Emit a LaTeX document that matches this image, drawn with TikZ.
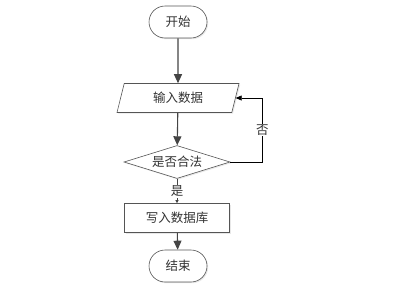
\documentclass[tikz,border=0pt]{standalone}
\usepackage{fontspec}
\setmainfont{Noto Sans CJK SC}
\usepackage{xcolor}
\usetikzlibrary{
  positioning, arrows.meta, shapes.geometric, shapes.misc, shadows,
}
\definecolor{cEdge}  {HTML}{555555}
\definecolor{cArrow} {HTML}{444444}
\definecolor{cText}  {HTML}{333333}

\begin{document}
\begin{tikzpicture}[x=1pt, y=-1pt,
    font=\fontsize{12.5}{14}\selectfont, text=cText,
    shape base/.style={draw=cEdge, line width=0.6pt, fill=white, inner sep=0pt,
      drop shadow={opacity=0.18, shadow xshift=1.2pt, shadow yshift=-1.2pt}},
    terminal/.style={shape base, rounded rectangle, minimum width=58pt, minimum height=32pt},
    inout/.style={shape base, trapezium, trapezium left angle=58, trapezium right angle=122,
      trapezium stretches body, minimum width=122pt, minimum height=29pt},
    decision/.style={shape base, diamond, aspect=3.2, minimum width=106pt, minimum height=33pt},
    process/.style={shape base, rectangle, minimum width=105pt, minimum height=29pt},
    flow/.style={draw=cArrow, line width=1.1pt, -{Triangle[length=9pt, width=8pt]}},
    back/.style={draw=black, line width=0.6pt, -{Triangle[length=6pt, width=5pt]}},
    yes/.style={draw=cArrow, line width=0.6pt, -{Triangle[length=3pt, width=3pt]}},
    label/.style={fill=white, inner sep=1pt},
  ]
  \useasboundingbox (0,0) rectangle (398,287);

  \node[terminal] (start) at (178,22)  {开始};
  \node[inout]    (input) at (178,98)  {输入数据};
  \node[decision] (check) at (177,162) {是否合法};
  \node[process]  (write) at (177,218) {写入数据库};
  \node[terminal] (stop)  at (178,266) {结束};

  \draw[flow] (start) -- (input);
  \draw[flow] (input) -- (check);
  \draw[yes]  (check) -- node[label] {是} (write);
  \draw[flow] (write) -- (stop);
  % loop back when the data is not valid
  \draw[back] (check.east) -- ++(32,0) |- node[label, pos=0.25] {否} (input.east);
\end{tikzpicture}
\end{document}
